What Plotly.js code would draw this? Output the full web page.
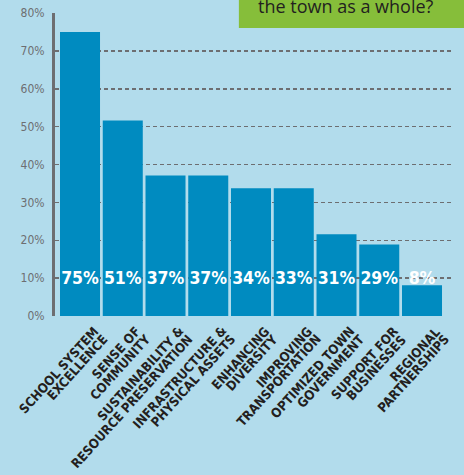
<!DOCTYPE html>
<html><head><meta charset="utf-8">
<script src="https://cdn.plot.ly/plotly-3.0.1.min.js"></script>
<style>html,body{margin:0;padding:0;background:#b2dcec;}#chart{width:464px;height:475px;}</style>
</head><body><div id="chart"></div>
<script>
var categories = [
  "School system excellence",
  "Sense of community",
  "Sustainability & resource preservation",
  "Infrastructure & physical assets",
  "Enhancing diversity",
  "Improving transportation",
  "Optimized town government",
  "Support for businesses",
  "Regional partnerships"
];
var labelLine1 = ["SCHOOL SYSTEM", "SENSE OF", "SUSTAINABILITY &", "INFRASTRUCTURE &", "ENHANCING",
                  "IMPROVING", "OPTIMIZED TOWN", "SUPPORT FOR", "REGIONAL"];
var labelLine2 = ["EXCELLENCE", "COMMUNITY", "RESOURCE PRESERVATION", "PHYSICAL ASSETS", "DIVERSITY",
                  "TRANSPORTATION", "GOVERNMENT", "BUSINESSES", "PARTNERSHIPS"];
var barValues = [75, 51.6, 37.1, 37.1, 33.7, 33.7, 21.6, 18.9, 8.1];
var barLabels = ["75%", "51%", "37%", "37%", "34%", "33%", "31%", "29%", "8%"];
var tickVals = [0, 10, 20, 30, 40, 50, 60, 70, 80];
var tickLabels = ["0%", "10%", "20%", "30%", "40%", "50%", "60%", "70%", "80%"];
var labelLevel = 9.6;

var traces = [
  {
    type: "bar",
    x: categories,
    y: barValues,
    marker: {color: "#008bc0", line: {width: 0}},
    hoverinfo: "none"
  },
  {
    type: "scatter",
    mode: "text",
    x: categories,
    y: categories.map(function(){ return labelLevel; }),
    text: barLabels,
    textposition: "middle center",
    textfont: {family: "DejaVu Sans Condensed, DejaVu Sans, sans-serif", size: 17.5, color: "#ffffff", weight: "bold"},
    cliponaxis: false,
    hoverinfo: "none"
  }
];

var labelFont = {family: "DejaVu Sans Condensed, DejaVu Sans, sans-serif", size: 13, color: "#231f20", weight: "bold"};
var angle = -48;
var annotations = [
  {xref: "paper", yref: "paper", x: 0.731, y: 1.022, xanchor: "center", yanchor: "middle",
   text: "the town as a whole?", showarrow: false,
   font: {family: "Open Sans, Noto Sans, sans-serif", size: 18, color: "#231f20"}}
];
categories.forEach(function(c, i){
  annotations.push({xref: "x", yref: "paper", x: c, y: 0, xanchor: "right", yanchor: "top",
    xshift: 24, yshift: -5, text: labelLine1[i], textangle: angle, showarrow: false, font: labelFont});
  annotations.push({xref: "x", yref: "paper", x: c, y: 0, xanchor: "right", yanchor: "top",
    xshift: 33, yshift: -13, text: labelLine2[i], textangle: angle, showarrow: false, font: labelFont});
});

var layout = {
  width: 464, height: 475,
  paper_bgcolor: "#b2dcec",
  plot_bgcolor: "#b2dcec",
  margin: {l: 55, r: 11, t: 13, b: 159},
  showlegend: false,
  bargap: 0.064,
  xaxis: {
    type: "category",
    range: [-0.585, 8.725],
    showline: false, showgrid: false, zeroline: false,
    ticks: "", showticklabels: false
  },
  yaxis: {
    range: [0, 80],
    tickvals: tickVals,
    ticktext: tickLabels,
    showline: true, linecolor: "#6d6e71", linewidth: 3,
    showgrid: true, gridcolor: "#6d6e71", gridwidth: 1.5, griddash: "4px,3px",
    zeroline: false,
    ticks: "",
    ticklabelstandoff: 5,
    tickfont: {family: "DejaVu Sans Condensed, DejaVu Sans, sans-serif", size: 12, color: "#6d6e71"}
  },
  shapes: [
    {type: "rect", xref: "paper", yref: "paper", x0: 0.462, x1: 1.05, y0: 0.9505, y1: 1.06,
     fillcolor: "#86be3a", line: {width: 0}, layer: "above"}
  ],
  annotations: annotations
};

Plotly.newPlot("chart", traces, layout, {displayModeBar: false, staticPlot: true});
</script>
</body></html>
